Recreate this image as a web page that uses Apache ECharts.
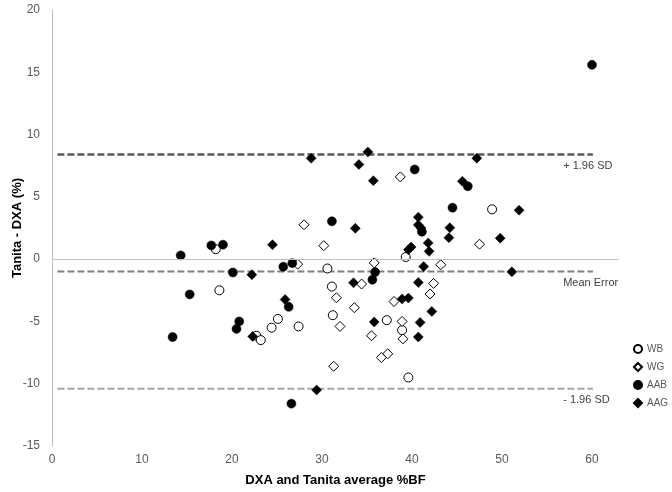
<!DOCTYPE html>
<html><head><meta charset="utf-8">
<script src="https://cdn.jsdelivr.net/npm/echarts@6/dist/echarts.min.js"></script>
<style>html,body{margin:0;padding:0;background:#fff}#c{width:672px;height:492px}</style>
</head><body><div id="c"></div>
<script>
// ---- data ----
const seriesNames = ['WB', 'WG', 'AAB', 'AAG'];
const wbData = [
  [18.2, 0.8], [18.6, -2.5], [22.7, -6.15], [23.2, -6.5], [24.4, -5.5], [25.1, -4.8],
  [27.4, -5.4], [30.6, -0.75], [31.1, -2.2], [31.2, -4.5], [37.2, -4.9], [38.9, -5.7],
  [39.3, 0.17], [39.6, -9.5], [48.9, 4.0]
];
const wgData = [
  [27.3, -0.4], [28.0, 2.76], [30.2, 1.08], [31.3, -8.6], [31.6, -3.1], [32.0, -5.4],
  [33.6, -3.9], [34.4, -2.0], [35.5, -6.15], [35.8, -0.3], [36.6, -7.9], [37.3, -7.6],
  [38.0, -3.4], [38.7, 6.6], [38.9, -5.0], [39.0, -6.4], [42.0, -2.8], [42.4, -1.95],
  [43.2, -0.45], [47.5, 1.2]
];
const aabData = [
  [13.4, -6.25], [14.3, 0.3], [15.3, -2.83], [17.7, 1.1], [19.0, 1.16], [20.1, -1.07],
  [20.5, -5.6], [20.8, -5.0], [25.7, -0.61], [26.3, -3.83], [26.6, -11.6], [26.7, -0.32],
  [31.1, 3.04], [35.6, -1.65], [35.9, -1.04], [40.3, 7.2], [41.1, 2.2], [44.5, 4.13],
  [46.2, 5.85], [60.0, 15.6]
];
const aagData = [
  [22.2, -1.25], [22.3, -6.2], [24.5, 1.16], [25.9, -3.24], [28.8, 8.1], [29.4, -10.5],
  [33.5, -1.9], [33.7, 2.47], [34.1, 7.6], [35.1, 8.6], [35.7, 6.3], [35.8, -5.05],
  [38.9, -3.19], [39.6, -3.12], [39.6, 0.76], [39.9, 0.97], [40.7, 3.37], [40.7, 2.75],
  [41.0, 2.5], [40.7, -1.88], [40.9, -5.08], [40.7, -6.25], [41.3, -0.6], [41.8, 1.3],
  [41.9, 0.63], [42.2, -4.2], [44.1, 1.72], [44.2, 2.52], [45.6, 6.25], [47.2, 8.1],
  [49.8, 1.68], [51.1, -1.02], [51.9, 3.93]
];
const refValues = [8.4, -1.0, -10.4];          // +1.96 SD, mean error, -1.96 SD
const refLabels = ['+ 1.96 SD', 'Mean Error', '- 1.96 SD'];
const refXRange = [0.6, 60.1];
const xTicks = [0, 10, 20, 30, 40, 50, 60];
const yTicks = [-15, -10, -5, 0, 5, 10, 15, 20];

// ---- chart ----
const F = '"Liberation Sans", Arial, sans-serif';
const chart = echarts.init(document.getElementById('c'), null, {renderer: 'canvas'});
const refStyles = [
  {color: '#595959', width: 2.5},
  {color: '#7f7f7f', width: 2},
  {color: '#a6a6a6', width: 2}
];
const refSeries = refValues.map((v, i) => ({
  type: 'line', name: refLabels[i], data: refXRange.map(x => [x, v]),
  symbol: 'none', silent: true, z: 1,
  lineStyle: {color: refStyles[i].color, width: refStyles[i].width, type: [7, 3]}
}));
const mk = (name, data, symbol, filled) => ({
  type: 'scatter', name, data, symbol, symbolSize: symbol === 'circle' ? 9 : 10,
  z: 3,
  itemStyle: filled ? {color: '#000', borderColor: '#000', borderWidth: 0.5, opacity: 1}
                    : {color: '#fff', borderColor: '#000', borderWidth: 1, opacity: 1}
});
const option = {
  animation: false,
  textStyle: {fontFamily: F},
  grid: {left: 52, top: 10, width: 567, height: 436, containLabel: false, outerBoundsMode: 'none'},
  xAxis: {
    type: 'value', min: 0, max: 63, interval: 10,
    axisLine: {show: false}, axisTick: {show: false}, splitLine: {show: false},
    axisLabel: {color: '#595959', fontSize: 12, fontFamily: F, margin: 8,
      formatter: v => (xTicks.indexOf(v) >= 0 ? String(v) : '')},
    name: 'DXA and Tanita average %BF', nameLocation: 'middle', nameGap: 28, nameMoveOverlap: false,
    nameTextStyle: {fontWeight: 'bold', fontSize: 13, color: '#000', fontFamily: F}
  },
  yAxis: {
    type: 'value', min: -15, max: 20, interval: 5,
    axisLine: {show: true, onZero: false, lineStyle: {color: '#bfbfbf', width: 1}},
    axisTick: {show: false}, splitLine: {show: false},
    axisLabel: {color: '#595959', fontSize: 12, fontFamily: F, margin: 12,
      formatter: v => (yTicks.indexOf(v) >= 0 ? String(v) : '')},
    name: 'Tanita - DXA (%)', nameLocation: 'middle', nameGap: 28, nameMoveOverlap: false,
    nameTextStyle: {fontWeight: 'bold', fontSize: 13, color: '#000', fontFamily: F}
  },
  legend: {
    data: seriesNames, orient: 'vertical', left: 633, top: 344, padding: 0,
    itemWidth: 8, itemHeight: 8, itemGap: 8,
    textStyle: {fontSize: 10, color: '#595959', fontFamily: F}
  },
  series: [
    Object.assign(mk('WB', wbData, 'circle', false), {
      markLine: {silent: true, symbol: 'none', label: {show: false},
        lineStyle: {color: '#bfbfbf', width: 1, type: 'solid'},
        data: [{yAxis: 0}]}
    }),
    mk('WG', wgData, 'diamond', false),
    mk('AAB', aabData, 'circle', true),
    mk('AAG', aagData, 'diamond', true)
  ].concat(refSeries)
};
chart.setOption(option);
// labels for the reference lines, placed in data coordinates
const labelPos = [[56.8, 7.45], [56.8, -1.95], [56.8, -11.3]];
chart.setOption({
  graphic: refLabels.map((t, i) => {
    const p = chart.convertToPixel({gridIndex: 0}, labelPos[i]);
    return {type: 'text', x: p[0], y: p[1],
      style: {text: t, fontSize: 11, fill: '#404040', fontFamily: F, verticalAlign: 'middle', align: 'left'}};
  })
});
</script></body></html>
